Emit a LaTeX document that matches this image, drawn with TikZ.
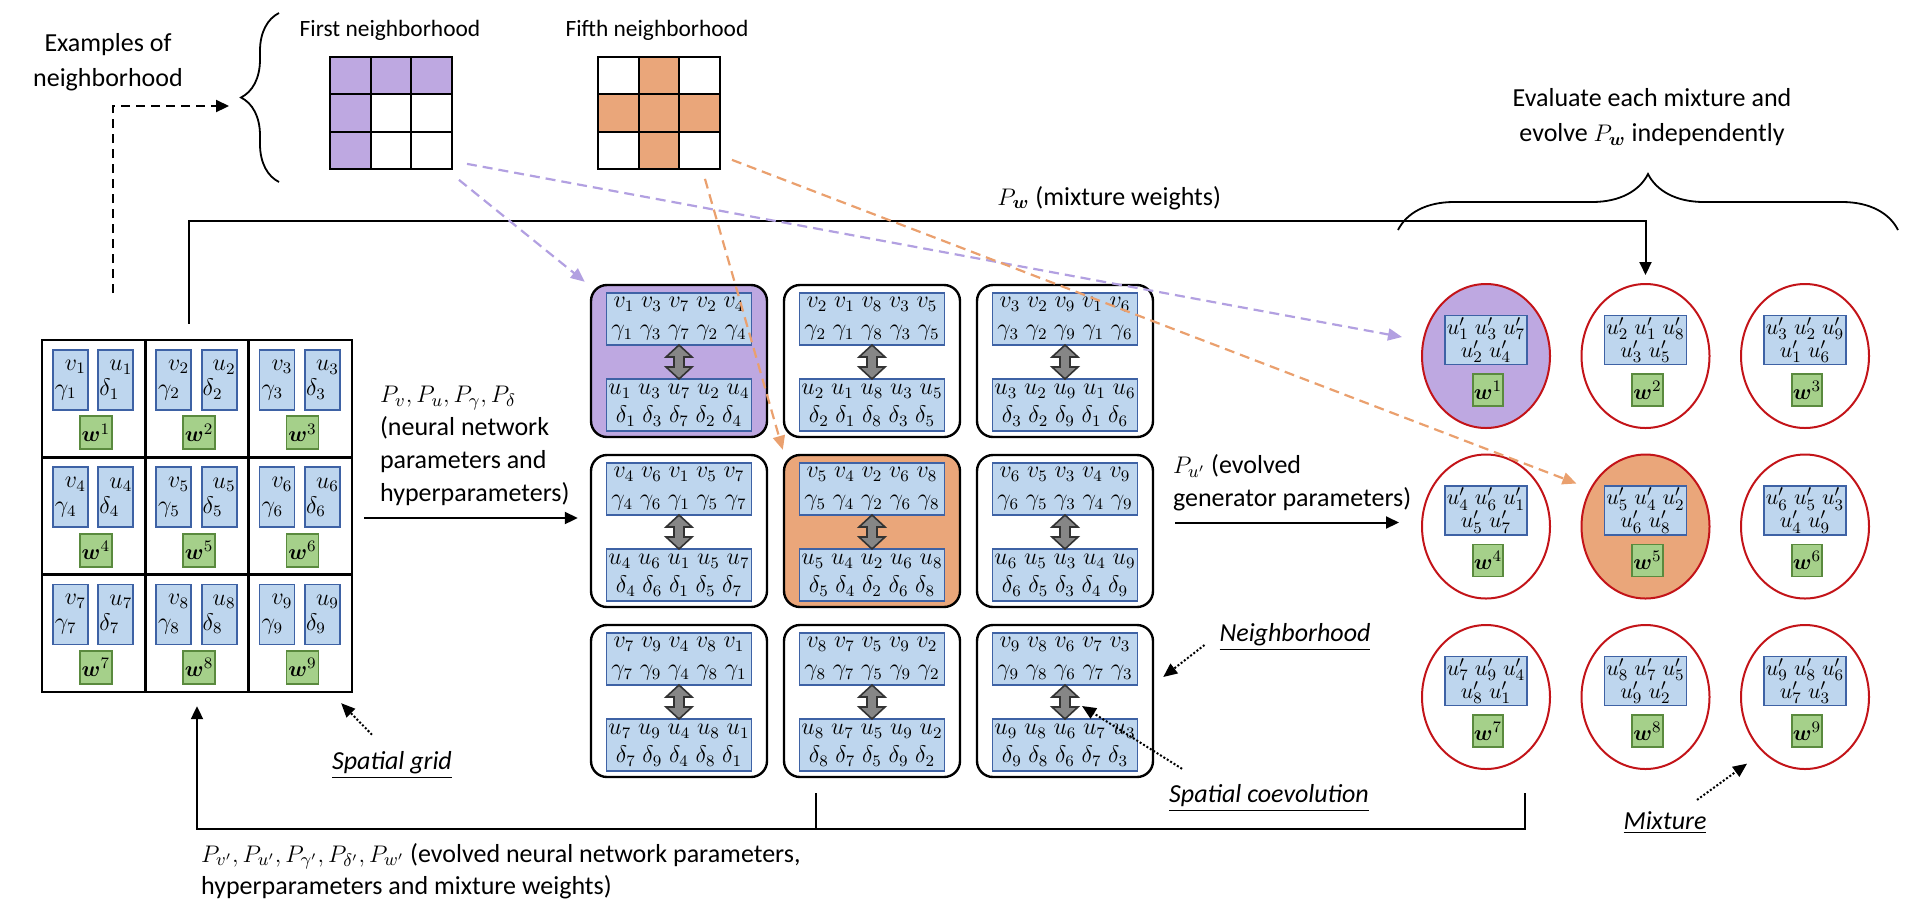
\documentclass[tikz,border=0pt]{standalone}
\usepackage{fontspec}
\setmainfont{Carlito}
\usepackage{bm}
\usetikzlibrary{arrows.meta,shapes.geometric,positioning,calc,decorations.pathreplacing}
\definecolor{nbpurple}{RGB}{190,168,225}
\definecolor{nborange}{RGB}{234,166,122}
\definecolor{parblue}{RGB}{190,214,238}
\definecolor{parline}{RGB}{62,98,165}
\definecolor{wgreen}{RGB}{165,208,138}
\definecolor{wline}{RGB}{90,138,62}
\definecolor{mixred}{RGB}{195,20,25}
\definecolor{lnpurple}{RGB}{178,160,225}
\definecolor{lnorange}{RGB}{234,160,110}

% gray two-headed block arrow between the two parameter boxes
\newcommand{\dblarr}[1]{%
  \draw[darr] #1 ++(0,-17) -- ++(13,12) -- ++(-8,0) -- ++(0,10) -- ++(8,0)
    -- ++(-13,12) -- ++(-13,-12) -- ++(8,0) -- ++(0,-10) -- ++(-8,0) -- cycle;}

\tikzset{
  lbl/.style={font=\fontsize{13}{16.5}\selectfont, align=center},
  ttl/.style={font=\fontsize{11.7}{14}\selectfont},
  ulbl/.style={font=\fontsize{13}{16}\selectfont\itshape},
  smcell/.style={draw, line width=0.9pt, minimum width=20.35pt, minimum height=18.65pt, inner sep=0pt},
  gcell/.style={draw, line width=1.2pt, minimum width=51.65pt, minimum height=58.65pt, inner sep=0pt},
  vbox/.style={draw=parline, fill=parblue, line width=0.9pt, minimum width=17.5pt, minimum height=30pt,
    inner sep=0.5pt, align=left, font=\fontsize{11.5}{12.5}\selectfont},
  wbox/.style={draw=wline, fill=wgreen, line width=0.9pt, minimum width=16pt, minimum height=16.5pt,
    inner sep=0.5pt, font=\fontsize{11}{12}\selectfont},
  nbox/.style={draw, line width=1.2pt, rounded corners=8pt, minimum width=88pt, minimum height=76pt, inner sep=0pt},
  pbox/.style={draw=parline, fill=parblue, line width=0.9pt, minimum width=72.5pt, minimum height=26pt,
    inner sep=0pt, align=center, font=\fontsize{11.5}{14}\selectfont},
  mix/.style={ellipse, draw=mixred, line width=1pt, minimum width=64pt, minimum height=72pt, inner sep=0pt},
  mbox/.style={draw=parline, fill=parblue, line width=0.9pt, minimum width=41pt, minimum height=24.5pt,
    inner sep=0pt, align=center, font=\fontsize{11}{11.5}\selectfont},
  darr/.style={fill=gray!95, draw=black!80, line width=0.8pt},
  solarr/.style={line width=1pt, -{Triangle[length=6.5pt,width=6pt]}},
  dasharr/.style={line width=1.1pt, dash pattern=on 4.5pt off 3pt, -{Triangle[length=6.5pt,width=6pt]}},
  purpdash/.style={lnpurple, line width=1.1pt, dash pattern=on 5pt off 3pt, -{Triangle[length=7pt,width=6pt]}},
  orandash/.style={lnorange, line width=1.1pt, dash pattern=on 5pt off 3pt, -{Triangle[length=7pt,width=6pt]}},
  dotarr/.style={line width=1pt, densely dotted, -{Triangle[length=7pt,width=6pt]}},
  bracel/.style={decorate, decoration={brace, amplitude=19pt}, line width=0.9pt},
  bracet/.style={decorate, decoration={brace, amplitude=28pt}, line width=0.9pt}
}

\begin{document}
\begin{tikzpicture}[x=0.5pt, y=-0.5pt]
\useasboundingbox (0,0) rectangle (1912,912);

% Examples of neighborhood
\node[lbl, font=\fontsize{13}{17.5}\selectfont] (exl) at (108,62) {Examples of\\neighborhood};
\coordinate (exfoot) at (113,293);
\coordinate (brtip) at (229,106);
\draw[dasharr] (exfoot) |- (brtip);
\draw[bracel] (279,182) -- (279,13);

% First neighborhood
\node[ttl] (fnt) at (390,30) {First neighborhood};
\foreach \i/\j/\f in {0/0/nbpurple, 1/0/nbpurple, 2/0/nbpurple, 0/1/nbpurple, 1/1/white,
    2/1/white, 0/2/nbpurple, 1/2/white, 2/2/white}
  \node[smcell, fill=\f] (fn\i\j) at ({350.3+40.7*\i},{75.7+37.3*\j}) {};

% Fifth neighborhood
\node[ttl] (fot) at (657,30) {Fifth neighborhood};
\foreach \i/\j/\f in {0/0/white, 1/0/nborange, 2/0/white, 0/1/nborange, 1/1/nborange,
    2/1/nborange, 0/2/white, 1/2/nborange, 2/2/white}
  \node[smcell, fill=\f] (fo\i\j) at ({618.3+40.7*\i},{75.7+37.3*\j}) {};

% Spatial grid
\foreach \n in {1,...,9} {
  \pgfmathtruncatemacro{\rw}{(\n-1)/3}
  \pgfmathtruncatemacro{\cl}{\n-1-3*\rw}
  \node[gcell] (g\n) at ({93.7+103.3*\cl},{398.7+117.3*\rw}) {};
  \node[vbox] (gv\n) at ($(g\n.north west)+(29.5,41)$) {\hspace*{5pt}$v_{\n}$\\$\gamma_{\n}$};
  \node[vbox] (gu\n) at ($(g\n.north west)+(75,41)$) {\hspace*{5pt}$u_{\n}$\\$\delta_{\n}$};
  \node[wbox] (gw\n) at ($(g\n.north west)+(55,94)$) {$\bm{w}^{\n}$};
}

% Neighborhoods (spatial coevolution)
\foreach \rw/\cl/\f/\ia/\ib/\ic/\id/\ie in {1/1/nbpurple/1/3/7/2/4, 1/2/white/2/1/8/3/5,
    1/3/white/3/2/9/1/6, 2/1/white/4/6/1/5/7, 2/2/nborange/5/4/2/6/8, 2/3/white/6/5/3/4/9,
    3/1/white/7/9/4/8/1, 3/2/white/8/7/5/9/2, 3/3/white/9/8/6/7/3} {
  \node[nbox, fill=\f] (nb\rw\cl) at ({679+193*(\cl-1)},{361+170*(\rw-1)}) {};
  \node[pbox, below=4pt of nb\rw\cl.north] (nt\rw\cl)
    {$v_{\ia}\;v_{\ib}\;v_{\ic}\;v_{\id}\;v_{\ie}$\\$\gamma_{\ia}\;\gamma_{\ib}\;\gamma_{\ic}\;\gamma_{\id}\;\gamma_{\ie}$};
  \node[pbox, above=3pt of nb\rw\cl.south] (nd\rw\cl)
    {$u_{\ia}\;u_{\ib}\;u_{\ic}\;u_{\id}\;u_{\ie}$\\$\delta_{\ia}\;\delta_{\ib}\;\delta_{\ic}\;\delta_{\id}\;\delta_{\ie}$};
  \coordinate (da\rw\cl) at ($(nt\rw\cl.south)!.5!(nd\rw\cl.north)$);
  \dblarr{(da\rw\cl)}
}

% Mixtures
\foreach \n/\ia/\ib/\ic/\id/\ie/\f in {1/1/3/7/2/4/nbpurple, 2/2/1/8/3/5/white, 3/3/2/9/1/6/white,
    4/4/6/1/5/7/white, 5/5/4/2/6/8/nborange, 6/6/5/3/4/9/white, 7/7/9/4/8/1/white,
    8/8/7/5/9/2/white, 9/9/8/6/7/3/white} {
  \pgfmathtruncatemacro{\rw}{(\n-1)/3}
  \pgfmathtruncatemacro{\cl}{\n-1-3*\rw}
  \node[mix, fill=\f] (m\n) at ({1486+159.5*\cl},{356+170.5*\rw}) {};
  \node[mbox] (mu\n) at ($(m\n.center)+(0,-16)$) {$u'_{\ia}\;u'_{\ib}\;u'_{\ic}$\\$u'_{\id}\;u'_{\ie}$};
  \node[wbox, minimum width=14.5pt, minimum height=16pt] (mw\n) at ($(m\n.center)+(2,34)$) {$\bm{w}^{\n}$};
}

% Flow between the stages
\node[lbl, anchor=west, align=left] (pvl) at (373,446)
  {$P_v, P_u, P_\gamma, P_\delta$\\(neural network\\parameters and\\hyperparameters)};
\draw[solarr] ($(g6.east)+(11,2)$) -- ($(g6.east -| nb21.west)+(-12,2)$);
\node[lbl, anchor=west, align=left] (pul) at (1166,483) {$P_{u'}$ (evolved\\generator parameters)};
\draw[solarr] ($(nb23.east |- m4.west)+(21,-4)$) -- ($(m4.west)+(-22,-4)$);

\node[lbl, anchor=east] (pwl) at (1228,198) {$P_{\bm{w}}$ (mixture weights)};
\draw[solarr] ($(g2.north)+(-8,-15)$) |- ($(m2.north)+(0,-62)$) -- ($(m2.north)+(0,-8)$);

\draw[bracet] (1398,230) -- (1898,230);
\node[lbl, font=\fontsize{13}{17.5}\selectfont] (evl) at (1652,117)
  {Evaluate each mixture and\\evolve $P_{\bm{w}}$ independently};

\draw[solarr] ($(m7.south)+(39,23)$) -- ++(0,36) -| ($(g8.south)+(0,13)$);
\draw[line width=1pt] ($(nb32.south)+(-56,15)$) -- ++(0,36);
\node[lbl, anchor=north west, align=left, font=\fontsize{13}{16}\selectfont] (bot) at (194,836)
  {$P_{v'}, P_{u'}, P_{\gamma'}, P_{\delta'}, P_{w'}$ (evolved neural network parameters,\\hyperparameters and mixture weights)};

% Annotations
\node[ulbl] (sgl) at (392,765) {\underline{Spatial grid}};
\draw[dotarr] ($(sgl.north)+(-20,-10)$) -- ($(g9.south east)+(-12,10)$);
\node[ulbl] (nbl) at (1295,637) {\underline{Neighborhood}};
\draw[dotarr] ($(nbl.west)+(-8,8)$) -- ($(nb33.east)+(9,-24)$);
\node[ulbl] (scl) at (1269,798) {\underline{Spatial coevolution}};
\draw[dotarr] ($(scl.north west)+(20,-9)$) -- ($(da33)+(17,4)$);
\node[ulbl] (mxl) at (1665,823) {\underline{Mixture}};
\draw[dotarr] ($(mxl.north)+(32,-5)$) -- ($(m9.south west)+(-12,15)$);

% Where the example neighborhoods go
\draw[purpdash] ($(fn22.south east)+(6,10)$) -- ($(nb11.north west)+(-5,-2)$);
\draw[purpdash] ($(fn22.south east)+(14,-6)$) -- ($(m1.west)+(-19,-19)$);
\draw[orandash] ($(fo22.south east)+(-16,9)$) -- ($(nb22.north west)+(0,-4)$);
\draw[orandash] ($(fo22.south east)+(11,-10)$) -- ($(m5.west)+(-4,-43)$);
\end{tikzpicture}
\end{document}
